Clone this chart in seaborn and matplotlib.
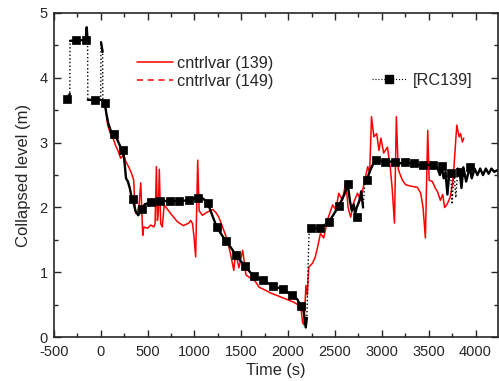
import matplotlib
matplotlib.use('Agg')
import matplotlib.pyplot as plt
from matplotlib.lines import Line2D
import numpy as np
import pandas as pd
import seaborn as sns

# cntrlvar (139) - red trace
red_t = [43, 60, 75, 100, 139, 160, 180, 213, 245, 270, 300, 330, 352, 360, 373, 395, 410, 427,
         440, 448, 460, 500, 534, 566, 580, 594, 605, 615, 625, 640, 657, 677, 750, 818, 882, 940,
         960, 980, 995, 1013, 1035, 1050, 1085, 1138, 1170, 1195, 1230, 1260, 1300, 1350, 1390,
         1420, 1440, 1475, 1515, 1550, 1600, 1650, 1690, 1750, 1815, 1870, 1920, 1990, 2060, 2115,
         2140, 2155, 2170, 2190, 2205, 2220, 2260, 2290, 2315, 2345, 2380, 2420, 2475, 2510, 2540,
         2580, 2615, 2640, 2667, 2700, 2740, 2775, 2810, 2850, 2870, 2890, 2915, 2945, 2970, 2990,
         3020, 3060, 3090, 3110, 3135, 3155, 3175, 3190, 3220, 3255, 3310, 3380, 3415, 3440, 3465,
         3490, 3505, 3540, 3570, 3595, 3625, 3650, 3670, 3700, 3730, 3755, 3770, 3800, 3825, 3840,
         3860, 3875]
red_y = [3.60, 3.42, 3.27, 3.15, 3.04, 2.95, 2.89, 2.76, 2.81, 2.70, 2.62, 2.52, 2.42, 2.15, 1.91,
         1.95, 2.05, 2.38, 1.90, 1.57, 1.70, 1.68, 1.73, 1.70, 1.75, 2.63, 1.80, 1.95, 2.59, 1.75,
         1.70, 2.04, 1.90, 1.78, 1.72, 1.76, 1.80, 1.75, 1.55, 1.24, 2.73, 1.95, 1.88, 1.93, 1.95,
         1.97, 1.92, 1.85, 1.70, 1.50, 1.25, 1.03, 1.31, 1.07, 1.34, 0.96, 0.91, 0.86, 0.77, 0.73,
         0.68, 0.65, 0.62, 0.58, 0.54, 0.49, 0.40, 0.22, 0.19, 0.80, 0.65, 1.08, 1.14, 1.24, 1.39,
         1.60, 1.53, 1.81, 2.04, 1.96, 2.22, 2.11, 2.39, 2.00, 1.85, 2.08, 2.22, 2.11, 2.37, 2.63,
         2.53, 3.40, 3.09, 3.14, 2.88, 3.07, 2.84, 2.93, 2.62, 2.30, 1.76, 3.40, 2.60, 2.53, 2.42,
         2.35, 2.33, 2.31, 2.22, 2.00, 1.53, 3.19, 2.42, 2.40, 2.30, 2.24, 2.11, 2.20, 2.00, 2.06,
         2.16, 2.37, 2.63, 3.27, 3.09, 3.14, 3.01, 3.07]

# [RC139] - black trace
rc_t = [-363, -330, -328, -267, -160, -150, -140, -138, -64, 0, 3, 20, 22, 43, 60, 80, 110, 139,
        160, 190, 215, 235, 250, 270, 290, 310, 330, 341, 370, 400, 438, 470, 534, 630, 735, 833,
        939, 1035, 1090, 1142, 1190, 1238, 1290, 1334, 1390, 1441, 1490, 1537, 1590, 1633, 1729,
        1836, 1942, 2038, 2100, 2134, 2165, 2188, 2200, 2215, 2225, 2241, 2337, 2433, 2540, 2600,
        2636, 2660, 2680, 2700, 2715, 2732, 2760, 2780, 2800, 2820, 2839, 2870, 2900, 2935, 2980,
        3031, 3080, 3138, 3190, 3244, 3290, 3340, 3390, 3436, 3490, 3543, 3590, 3620, 3639, 3660,
        3680, 3700, 3720, 3735, 3750, 3770, 3790, 3810, 3831, 3850, 3870, 3900, 3938, 3960, 3990,
        4020, 4050, 4080, 4110, 4140, 4170, 4200, 4240]
rc_y = [3.67, 3.75, 4.57, 4.58, 4.58, 4.78, 4.58, 3.66, 3.66, 3.66, 4.55, 4.40, 3.62, 3.61, 3.45,
        3.30, 3.17, 3.13, 3.10, 3.00, 2.92, 2.88, 2.75, 2.45, 2.40, 2.30, 2.15, 2.13, 1.95, 1.88,
        1.98, 2.05, 2.08, 2.10, 2.10, 2.10, 2.11, 2.15, 2.14, 2.07, 1.88, 1.70, 1.58, 1.48, 1.38,
        1.27, 1.18, 1.10, 1.01, 0.94, 0.88, 0.79, 0.74, 0.65, 0.58, 0.48, 0.40, 0.15, 0.30, 1.20,
        1.68, 1.68, 1.68, 1.77, 2.02, 2.20, 2.36, 2.10, 1.95, 2.05, 1.90, 2.00, 2.10, 2.25, 2.00,
        2.40, 2.42, 2.55, 2.65, 2.73, 2.72, 2.70, 2.71, 2.70, 2.68, 2.70, 2.68, 2.69, 2.66, 2.65,
        2.66, 2.65, 2.62, 2.50, 2.64, 2.45, 2.55, 2.20, 2.53, 2.53, 2.05, 2.55, 2.15, 2.60, 2.55,
        2.30, 2.62, 2.40, 2.62, 2.45, 2.60, 2.50, 2.60, 2.50, 2.60, 2.52, 2.60, 2.55, 2.58]

rc_mark_t = [-363, -267, -160, -64, 43, 139, 235, 341, 438, 534, 630, 735, 833, 939, 1035, 1142,
             1238, 1334, 1441, 1537, 1633, 1729, 1836, 1942, 2038, 2134, 2241, 2337, 2433, 2540,
             2636, 2732, 2839, 2935, 3031, 3138, 3244, 3340, 3436, 3543, 3639, 3735, 3831, 3938]
rc_mark_y = [3.67, 4.58, 4.58, 3.66, 3.61, 3.13, 2.88, 2.13, 1.98, 2.08, 2.10, 2.10, 2.10, 2.11,
             2.15, 2.07, 1.70, 1.48, 1.27, 1.10, 0.94, 0.88, 0.79, 0.74, 0.65, 0.48, 1.68, 1.68,
             1.77, 2.02, 2.36, 1.85, 2.42, 2.73, 2.70, 2.70, 2.70, 2.69, 2.65, 2.65, 2.64, 2.53,
             2.55, 2.62]

x_ticks = [-500, 0, 500, 1000, 1500, 2000, 2500, 3000, 3500, 4000]
y_ticks = [0, 1, 2, 3, 4, 5]

sns.set_style('ticks')
plt.rcParams['font.family'] = ['Liberation Sans', 'DejaVu Sans']
plt.rcParams['axes.unicode_minus'] = False
plt.rcParams['xtick.direction'] = 'in'
plt.rcParams['ytick.direction'] = 'in'

fig = plt.figure(figsize=(4.99, 3.81), dpi=100)
ax = fig.add_axes([0.108, 0.115, 0.890, 0.851])

red_df = pd.DataFrame({'t': red_t, 'y': red_y})
sns.lineplot(data=red_df, x='t', y='y', ax=ax, color='#ff0000', lw=1.1,
             sort=False, estimator=None)

# black trace: dotted everywhere, solid where it moves smoothly
rc_df = pd.DataFrame({'t': rc_t, 'y': rc_y})
sns.lineplot(data=rc_df, x='t', y='y', ax=ax, color='black', lw=1.0, ls=':',
             sort=False, estimator=None)
jump = np.abs(np.diff(rc_df['y'].values)) > 0.35
rows = []
for i in range(len(rc_df)):
    rows.append((rc_df['t'][i], rc_df['y'][i]))
    if i < len(jump) and jump[i]:
        rows.append((rc_df['t'][i], np.nan))
solid = pd.DataFrame(rows, columns=['t', 'y'])
ax.plot(solid['t'], solid['y'], color='black', lw=1.7)

mk_df = pd.DataFrame({'t': rc_mark_t, 'y': rc_mark_y})
sns.scatterplot(data=mk_df, x='t', y='y', ax=ax, marker='s', color='black', s=32,
                edgecolor='black', linewidth=0.5, zorder=5)

ax.set_xlim(-500, 4240)
ax.set_ylim(0, 5)
ax.set_xticks(x_ticks)
ax.set_yticks(y_ticks)
ax.set_xticks(np.arange(-250, 4240, 500), minor=True)
ax.set_yticks(np.arange(0.5, 5, 1.0), minor=True)
ax.tick_params(which='both', top=True, right=True, labelsize=10.5, width=1.0)
ax.tick_params(which='major', length=5)
ax.tick_params(which='minor', length=3)
ax.tick_params(axis='x', pad=5.5)
ax.tick_params(axis='y', pad=4.5)
for s in ax.spines.values():
    s.set_linewidth(1.2)
ax.set_xlabel('Time (s)', fontsize=11.7, labelpad=3)
ax.set_ylabel('Collapsed level (m)', fontsize=12, labelpad=6)

h1 = [Line2D([], [], color='#ff0000', lw=1.1),
      Line2D([], [], color='#ff0000', lw=1.1, ls=(0, (4, 3)))]
leg1 = ax.legend(h1, ['cntrlvar (139)', 'cntrlvar (149)'], loc='upper left',
                 bbox_to_anchor=(0.187, 0.867), frameon=False, fontsize=11.7,
                 handlelength=2.2, handletextpad=0.28, labelspacing=0.15,
                 borderpad=0, borderaxespad=0)
ax.add_artist(leg1)
h2 = [Line2D([], [], color='black', lw=0.8, ls=':', marker='s', markersize=6)]
ax.legend(h2, ['[RC139]'], loc='upper left', bbox_to_anchor=(0.716, 0.815),
          frameon=False, fontsize=11.7, handlelength=2.1, handletextpad=0.43,
          borderpad=0, borderaxespad=0)

fig.savefig('out.png', dpi=100)
